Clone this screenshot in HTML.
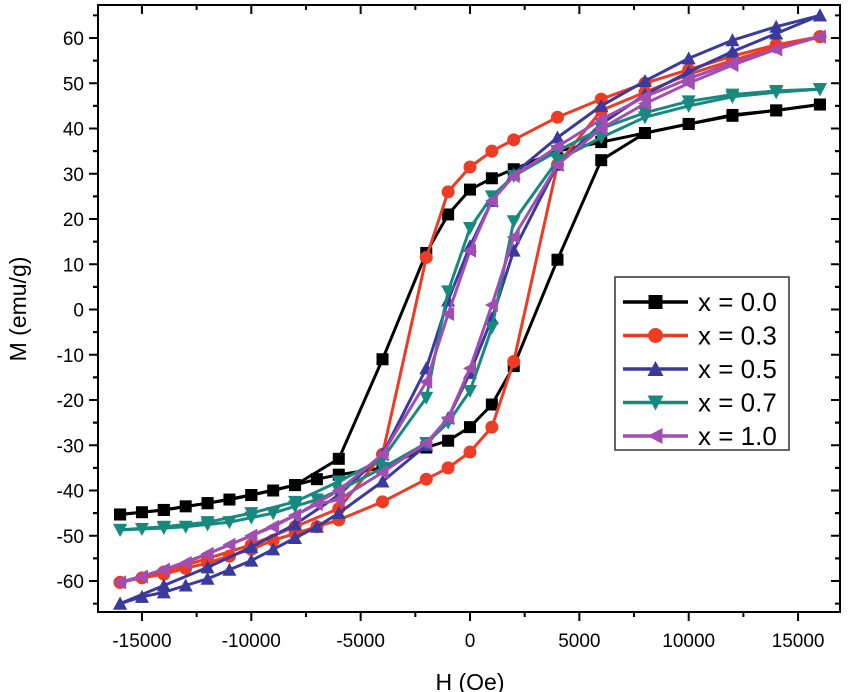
<!DOCTYPE html>
<html><head><meta charset="utf-8"><style>
html,body{margin:0;padding:0;background:#fff;}
svg{display:block;font-family:"Liberation Sans",Arial,sans-serif;}
</style></head><body>
<svg id="chart" width="848" height="692" viewBox="0 0 848 692" xmlns="http://www.w3.org/2000/svg">
<g id="grid"></g>
<g id="series"></g>
<g id="axes"></g>
<g id="legend"></g>
</svg>
<script>
// ---- data ----
const xTicks = [-15000,-10000,-5000,0,5000,10000,15000];
const yTicks = [-60,-50,-40,-30,-20,-10,0,10,20,30,40,50,60];
const seriesNames = ["x = 0.0","x = 0.3","x = 0.5","x = 0.7","x = 1.0"];
const seriesColors = ["#000000","#ee3b24","#3a3a9e","#17897f","#a24db3"];
const seriesMarkers = ["square","circle","up","down","left"];
// descending branch fields
const hDown = [16000,14000,12000,10000,8000,6000,4000,2000,1000,0,-1000,-2000,-4000,-6000,-8000,-10000,-12000,-14000,-16000];
// ascending branch fields
const hUp = [-16000,-15000,-14000,-13000,-12000,-11000,-10000,-9000,-8000,-7000,-6000,-4000,-2000,-1000,0,1000,2000,4000,6000,8000,10000,12000,14000,16000];
const mDown0 = [45.3,44,42.8,41,39,37,35,31,29,26.5,21,12.5,-11,-33,-38.8,-41,-42.8,-44.3,-45.3];
const mUp0 = [-45.3,-44.8,-44.3,-43.5,-42.8,-42,-41,-40,-38.8,-37.5,-36.5,-35,-30.5,-29,-26,-21,-12.5,11,33,39,41,43,44,45.3];
const mDown1 = [60.3,58.5,56,53,50,46.5,42.5,37.5,35,31.5,26,11.5,-32,-44,-48,-52,-55,-58,-60.3];
const mUp1 = [-60.3,-59.3,-58.5,-57.2,-56,-54.5,-53,-51,-49.5,-48,-46.5,-42.5,-37.5,-35,-31.5,-26,-11.5,32,44,48,52,55,58,60.3];
const mDown2 = [65,62.5,59.5,55.5,50.5,45,38,30,24,14,2,-13,-32,-41,-47.5,-52.5,-57,-61,-65];
const mUp2 = [-65,-63.5,-62.5,-61,-59.5,-57.5,-55.5,-53,-50.5,-48,-45,-38,-30,-24,-14,-2,13,32,41,47.5,52.5,57,61,65];
const mDown3 = [48.7,48.3,47.5,46,43.5,40,35,29.5,25,18,4,-19.5,-33,-38,-42.5,-45,-47,-48,-48.7];
const mUp3 = [-48.7,-48.5,-48.3,-48,-47.5,-47,-46,-45,-43.5,-42,-40,-35,-29.5,-25,-18,-4,19.5,33,38,42.5,45,47,48,48.7];
const mDown4 = [60.3,57.5,54.5,51,47,42,36,29.5,24,13,-1,-16,-32,-40,-45.5,-50,-54,-57.5,-60.3];
const mUp4 = [-60.3,-59,-57.5,-56,-54,-52,-50,-48,-45.5,-43,-42,-36,-29.5,-24,-13,1,16,32,40,45.5,50,54,57.5,60.3];
const downData = [mDown0,mDown1,mDown2,mDown3,mDown4];
const upData = [mUp0,mUp1,mUp2,mUp3,mUp4];

// ---- layout ----
const L=98,R=840,T=5,B=612;
const X0=470, XS=21.87/1000;
const Y0=309.5, YS=4.525;
function xs(v){return X0+v*XS;}
function ys(v){return Y0-v*YS;}
const NS="http://www.w3.org/2000/svg";
function mk(tag,attrs,parent){const e=document.createElementNS(NS,tag);for(const k in attrs)e.setAttribute(k,attrs[k]);parent.appendChild(e);return e;}

function marker(type,x,y,color,parent,s){
  s=s||6;
  let e;
  if(type==="square") e=mk("rect",{x:x-s,y:y-s,width:2*s,height:2*s,fill:color},parent);
  else if(type==="circle") e=mk("circle",{cx:x,cy:y,r:s+0.5,fill:color},parent);
  else if(type==="up") e=mk("polygon",{points:`${x},${y-s-1} ${x-s-1},${y+s} ${x+s+1},${y+s}`,fill:color},parent);
  else if(type==="down") e=mk("polygon",{points:`${x},${y+s+1} ${x-s-1},${y-s} ${x+s+1},${y-s}`,fill:color},parent);
  else e=mk("polygon",{points:`${x-s-1},${y} ${x+s},${y-s-1} ${x+s},${y+s+1}`,fill:color},parent);
  return e;
}

const ser=document.getElementById("series");
for(let i=0;i<5;i++){
  const g=mk("g",{},ser);
  
  
  const branches=[[hDown,downData[i]],[hUp,upData[i]]];
  for(const [H,M] of branches){
    const pts=H.map((h,j)=>xs(h).toFixed(1)+","+ys(M[j]).toFixed(1)).join(" ");
    const pl=mk("polyline",{points:pts,fill:"none",stroke:seriesColors[i],"stroke-width":3,"stroke-linejoin":"round"},g);
    
    
    H.forEach((h,j)=>{
      const m=marker(seriesMarkers[i],xs(h),ys(M[j]),seriesColors[i],g);
      
      
    });
  }
}

// ---- axes ----
const ax=document.getElementById("axes");
const frame=mk("rect",{x:L,y:T,width:R-L,height:B-T,fill:"none",stroke:"#000","stroke-width":2},ax);


xTicks.forEach(v=>{
  const x=xs(v);
  mk("line",{x1:x,y1:B,x2:x,y2:B+9,stroke:"#000","stroke-width":2},ax);
  mk("line",{x1:x,y1:T,x2:x,y2:T+9,stroke:"#000","stroke-width":2},ax);
  const t=mk("text",{x:x,y:B+35,"text-anchor":"middle","font-size":19,fill:"#000"},ax);
  t.textContent=v;
  
  
  const xm=xs(v+2500);
  if(xm<R){
    mk("line",{x1:xm,y1:B,x2:xm,y2:B+5,stroke:"#000","stroke-width":2},ax);
    mk("line",{x1:xm,y1:T,x2:xm,y2:T+5,stroke:"#000","stroke-width":2},ax);
  }
});
const xm0=xs(-17500); if(xm0>L){mk("line",{x1:xm0,y1:B,x2:xm0,y2:B+5,stroke:"#000","stroke-width":2},ax);}
yTicks.forEach(v=>{
  const y=ys(v);
  mk("line",{x1:L-9,y1:y,x2:L,y2:y,stroke:"#000","stroke-width":2},ax);
  mk("line",{x1:R-9,y1:y,x2:R,y2:y,stroke:"#000","stroke-width":2},ax);
  const t=mk("text",{x:L-14,y:y+7,"text-anchor":"end","font-size":19,fill:"#000"},ax);
  t.textContent=v;
  
  
  [v+5,v-5].forEach(m=>{const ym=ys(m); if(ym>T+2&&ym<B-2){
    mk("line",{x1:L-5,y1:ym,x2:L,y2:ym,stroke:"#000","stroke-width":2},ax);
    mk("line",{x1:R-5,y1:ym,x2:R,y2:ym,stroke:"#000","stroke-width":2},ax);}});
});
const xl=mk("text",{x:470,y:690,"text-anchor":"middle","font-size":23,fill:"#000"},ax);
xl.textContent="H (Oe)";


const yl=mk("text",{x:0,y:0,"text-anchor":"middle","font-size":23,fill:"#000",transform:"translate(26,309) rotate(-90)"},ax);
yl.textContent="M (emu/g)";



// ---- legend ----
const lg=document.getElementById("legend");
const box=mk("rect",{x:615,y:277,width:174,height:173,fill:"#fff",stroke:"#333","stroke-width":1.5},lg);


for(let i=0;i<5;i++){
  const y=302+i*33.5;
  const g=mk("g",{},lg);
  
  
  mk("line",{x1:623,y1:y,x2:688,y2:y,stroke:seriesColors[i],"stroke-width":3.5},g);
  marker(seriesMarkers[i],655.5,y,seriesColors[i],g,7);
  const t=mk("text",{x:698,y:y+9,"font-size":26,fill:"#000"},g);
  t.textContent=seriesNames[i];
}
</script>
</body></html>
